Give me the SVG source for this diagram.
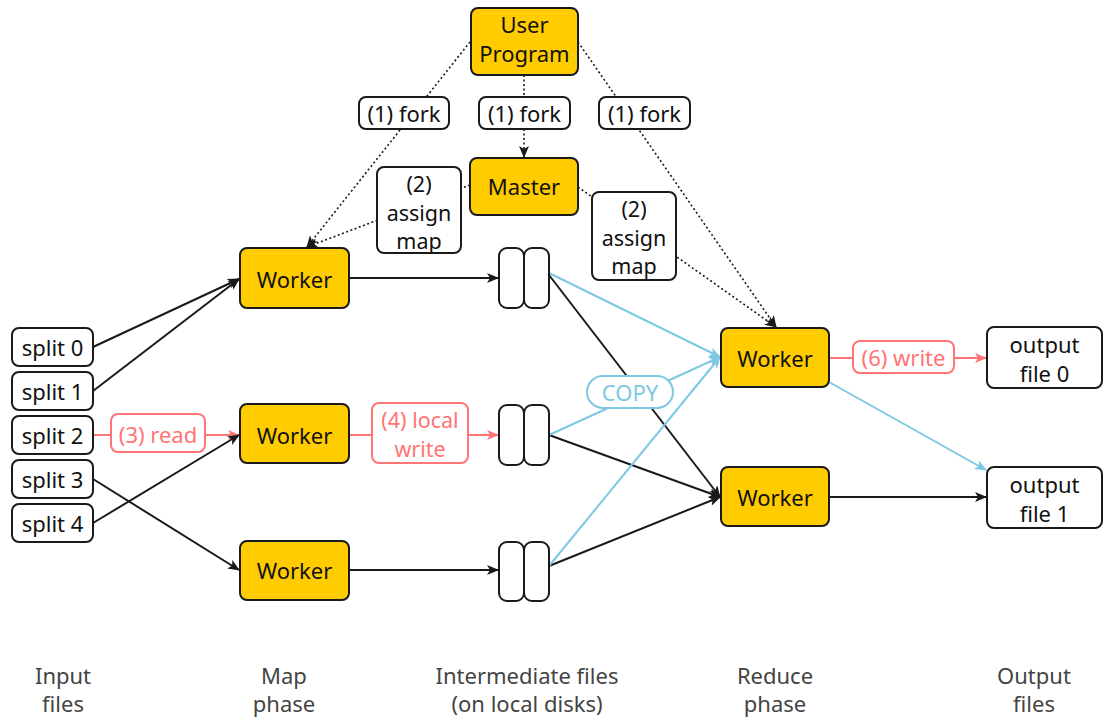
<svg xmlns="http://www.w3.org/2000/svg" width="1115" height="727" viewBox="0 0 1115 727">
<style>
text{font-family:"Noto Sans","Open Sans",sans-serif;font-size:22px;fill:#111;text-anchor:middle;dominant-baseline:central}
.gold{fill:#FFCC00;stroke:#1a1a1a;stroke-width:2}
.box{fill:#fff;stroke:#1a1a1a;stroke-width:2}
.lbl{fill:#fff;stroke:#1a1a1a;stroke-width:2}
.pbox{fill:#fff;stroke:#FF7474;stroke-width:2}
.bbox{fill:#fff;stroke:#7EC8E3;stroke-width:2}
.k{stroke:#1a1a1a;stroke-width:2;fill:none}
.p{stroke:#FF7474;stroke-width:2;fill:none}
.b{stroke:#7EC8E3;stroke-width:2;fill:none}
.d{stroke:#1a1a1a;stroke-width:1.6;fill:none;stroke-dasharray:2 2.5}
.pt{fill:#FF7474}
.bt{fill:#7EC8E3}
.cap{fill:#444;font-size:22px}
.ml{font-size:21.5px}
</style>
<defs>
<marker id="ak" markerWidth="12" markerHeight="10" refX="11" refY="5" orient="auto" markerUnits="userSpaceOnUse"><path d="M0,0 L12,5 L0,10 L3,5 Z" fill="#1a1a1a"/></marker>
<marker id="ap" markerWidth="12" markerHeight="10" refX="11" refY="5" orient="auto" markerUnits="userSpaceOnUse"><path d="M0,0 L12,5 L0,10 L3,5 Z" fill="#FF7474"/></marker>
<marker id="ab" markerWidth="12" markerHeight="10" refX="11" refY="5" orient="auto" markerUnits="userSpaceOnUse"><path d="M0,0 L12,5 L0,10 L3,5 Z" fill="#7EC8E3"/></marker>
</defs>

<g id="connectors">
<line class="d" x1="470" y1="42" x2="307" y2="247" marker-end="url(#ak)"/>
<line class="d" x1="524" y1="75" x2="524" y2="157" marker-end="url(#ak)"/>
<line class="d" x1="578" y1="42" x2="776" y2="327" marker-end="url(#ak)"/>
<line class="d" x1="470" y1="185" x2="307" y2="247" marker-end="url(#ak)"/>
<line class="d" x1="578" y1="187" x2="776" y2="327" marker-end="url(#ak)"/>
<line class="k" x1="93" y1="347" x2="239" y2="279" marker-end="url(#ak)"/>
<line class="k" x1="93" y1="391" x2="239" y2="279" marker-end="url(#ak)"/>
<line class="p" x1="93" y1="435" x2="239" y2="435" marker-end="url(#ap)"/>
<line class="k" x1="93" y1="479" x2="239" y2="570" marker-end="url(#ak)"/>
<line class="k" x1="93" y1="523" x2="239" y2="435" marker-end="url(#ak)"/>
<line class="k" x1="349" y1="278" x2="498" y2="278" marker-end="url(#ak)"/>
<line class="p" x1="349" y1="435" x2="498" y2="435" marker-end="url(#ap)"/>
<line class="k" x1="349" y1="570" x2="498" y2="570" marker-end="url(#ak)"/>
<line class="k" x1="549" y1="275" x2="720" y2="497" marker-end="url(#ak)"/>
<line class="k" x1="549" y1="435" x2="720" y2="497" marker-end="url(#ak)"/>
<line class="k" x1="549" y1="566" x2="720" y2="497" marker-end="url(#ak)"/>
<line class="b" x1="549" y1="273" x2="720" y2="357" marker-end="url(#ab)"/>
<line class="b" x1="549" y1="435" x2="720" y2="357" marker-end="url(#ab)"/>
<line class="b" x1="549" y1="566" x2="720" y2="357" marker-end="url(#ab)"/>
<line class="p" x1="829" y1="358" x2="986" y2="358" marker-end="url(#ap)"/>
<line class="b" x1="829" y1="382" x2="986" y2="470" marker-end="url(#ab)"/>
<line class="k" x1="829" y1="497" x2="986" y2="497" marker-end="url(#ak)"/>
</g>

<g id="labels">
<g id="fork1"><rect class="lbl" x="359" y="97" width="90" height="32" rx="7"/><text x="404" y="113">(1) fork</text></g>
<g id="fork2"><rect class="lbl" x="479" y="97" width="91" height="32" rx="7"/><text x="524.5" y="113">(1) fork</text></g>
<g id="fork3"><rect class="lbl" x="599" y="97" width="91" height="32" rx="7"/><text x="644.5" y="113">(1) fork</text></g>
<g id="assign1"><rect class="lbl" x="377" y="167" width="84" height="86" rx="7"/><text class="ml" x="419" y="183">(2)<tspan x="419" dy="28.5">assign</tspan><tspan x="419" dy="28.5">map</tspan></text></g>
<g id="assign2"><rect class="lbl" x="592" y="192" width="84" height="88" rx="7"/><text class="ml" x="634" y="208">(2)<tspan x="634" dy="28.5">assign</tspan><tspan x="634" dy="28.5">map</tspan></text></g>
<g id="read"><rect class="pbox" x="111" y="414" width="94" height="38" rx="7"/><text class="pt" x="158" y="434">(3) read</text></g>
<g id="localwrite"><rect class="pbox" x="372" y="403" width="96" height="60" rx="7"/><text class="pt ml" x="420" y="419">(4) local<tspan x="420" dy="28.5">write</tspan></text></g>
<g id="copy"><rect class="bbox" x="587" y="376" width="86" height="32" rx="16"/><text class="bt" x="630" y="392">COPY</text></g>
<g id="write"><rect class="pbox" x="853" y="341" width="101" height="32" rx="7"/><text class="pt" x="903.5" y="357">(6) write</text></g>
</g>

<g id="userprogram"><rect class="gold" x="471" y="8" width="107" height="67" rx="7"/><text x="524.5" y="24">User<tspan x="524.5" dy="29">Program</tspan></text></g>
<g id="master"><rect class="gold" x="470" y="158" width="108" height="57" rx="7"/><text x="524" y="186">Master</text></g>

<g id="split0"><rect class="box" x="12" y="328" width="81" height="38" rx="7"/><text x="52.5" y="347">split 0</text></g>
<g id="split1"><rect class="box" x="12" y="372" width="81" height="38" rx="7"/><text x="52.5" y="391">split 1</text></g>
<g id="split2"><rect class="box" x="12" y="416" width="81" height="38" rx="7"/><text x="52.5" y="435">split 2</text></g>
<g id="split3"><rect class="box" x="12" y="460" width="81" height="38" rx="7"/><text x="52.5" y="479">split 3</text></g>
<g id="split4"><rect class="box" x="12" y="504" width="81" height="38" rx="7"/><text x="52.5" y="523">split 4</text></g>

<g id="mapworker0"><rect class="gold" x="240" y="248" width="109" height="60" rx="7"/><text x="294.5" y="279">Worker</text></g>
<g id="mapworker1"><rect class="gold" x="240" y="404" width="109" height="59" rx="7"/><text x="294.5" y="435">Worker</text></g>
<g id="mapworker2"><rect class="gold" x="240" y="541" width="109" height="59" rx="7"/><text x="294.5" y="570">Worker</text></g>

<g id="inter0"><rect class="box" x="499" y="248" width="25" height="60" rx="8"/><rect class="box" x="524" y="248" width="25" height="60" rx="8"/></g>
<g id="inter1"><rect class="box" x="499" y="405" width="25" height="60" rx="8"/><rect class="box" x="524" y="405" width="25" height="60" rx="8"/></g>
<g id="inter2"><rect class="box" x="499" y="542" width="25" height="59" rx="8"/><rect class="box" x="524" y="542" width="25" height="59" rx="8"/></g>

<g id="reduceworker0"><rect class="gold" x="721" y="328" width="108" height="59" rx="7"/><text x="775" y="358">Worker</text></g>
<g id="reduceworker1"><rect class="gold" x="721" y="467" width="108" height="59" rx="7"/><text x="775" y="497">Worker</text></g>

<g id="output0"><rect class="box" x="987" y="327" width="115" height="61" rx="7"/><text x="1044.5" y="344">output<tspan x="1044.5" dy="29">file 0</tspan></text></g>
<g id="output1"><rect class="box" x="987" y="467" width="115" height="61" rx="7"/><text x="1044.5" y="484">output<tspan x="1044.5" dy="29">file 1</tspan></text></g>

<g id="captions">
<text class="cap" x="63" y="675">Input<tspan x="63" dy="28">files</tspan></text>
<text class="cap" x="284" y="675">Map<tspan x="284" dy="28">phase</tspan></text>
<text class="cap" x="527" y="675">Intermediate files<tspan x="527" dy="28">(on local disks)</tspan></text>
<text class="cap" x="775" y="675">Reduce<tspan x="775" dy="28">phase</tspan></text>
<text class="cap" x="1034" y="675">Output<tspan x="1034" dy="28">files</tspan></text>
</g>
</svg>
